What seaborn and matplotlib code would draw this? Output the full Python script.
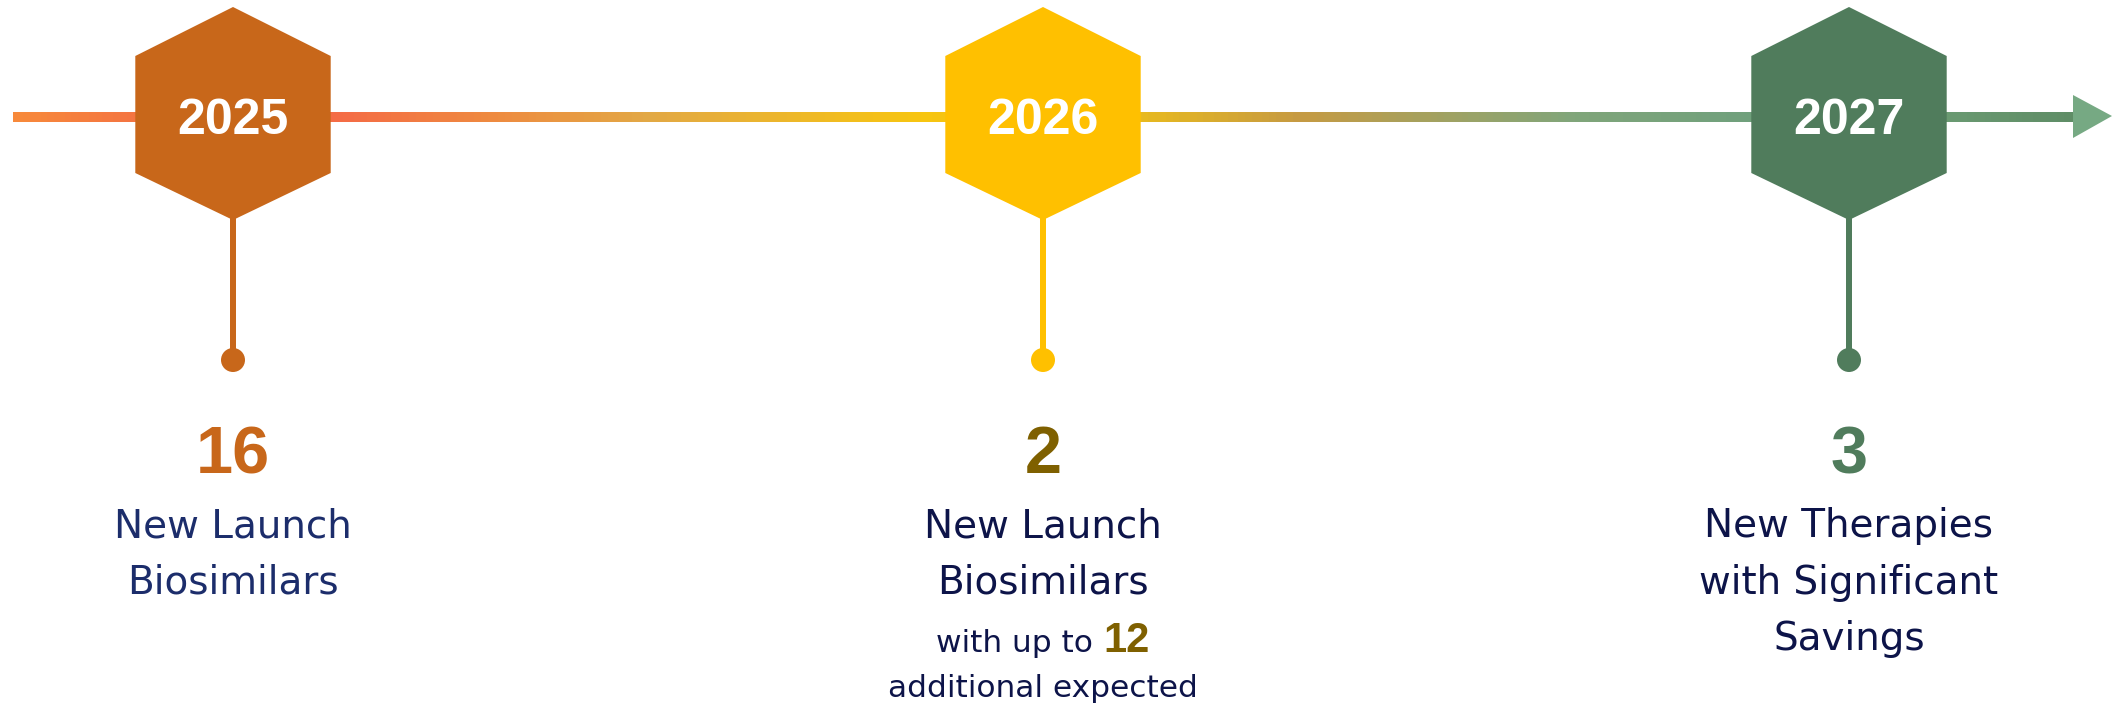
import matplotlib
matplotlib.use("Agg")
import matplotlib.pyplot as plt
import seaborn as sns
import numpy as np
import pandas as pd
from matplotlib.collections import LineCollection
from matplotlib.colors import LinearSegmentedColormap, to_rgb

sns.set_theme(style="white")
plt.rcParams["font.family"] = ["Liberation Sans", "DejaVu Sans"]

# milestone content
years = ["2025", "2026", "2027"]
counts = ["16", "2", "3"]
descriptions = [
    ["New Launch", "Biosimilars"],
    ["New Launch", "Biosimilars"],
    ["New Therapies", "with Significant", "Savings"],
]
extra_prefix = "with up to "
extra_count = "12"
extra_suffix = "additional expected"

hex_colors = ["#C8671A", "#FFC000", "#507C5C"]
count_colors = ["#C8671A", "#7F6000", "#507C5C"]
text_colors = ["#1C2D6B", "#0D1449", "#0D1449"]

# timeline gradient stops (pixel x, colour)
grad_x = [13, 200, 340, 488, 646, 923, 1140, 1298, 1456, 1575, 1750, 1947, 2074]
grad_c = ["#F7893B", "#F26845", "#F46C45", "#EE8A40", "#E2A845", "#F7C510",
          "#E8BA1E", "#C69A42", "#9EA264", "#80A57A", "#70A07C", "#6A9A72", "#5F8D66"]

W, H = 2119, 707
fig = plt.figure(figsize=(W / 100, H / 100), dpi=100)
ax = fig.add_axes([0, 0, 1, 1])

px = 72 / 100  # pixels -> points

# layout
mx = [233, 1043, 1849]
line_y = 117
half_w = 97.7
hex_top, hex_sh1, hex_sh2, hex_bot = 7, 56, 173, 220
dot_y = 360

# gradient line
xs = np.linspace(grad_x[0], grad_x[-1], 600)
pos = [(g - grad_x[0]) / (grad_x[-1] - grad_x[0]) for g in grad_x]
cmap = LinearSegmentedColormap.from_list("tl", list(zip(pos, [to_rgb(c) for c in grad_c])))
segs = [[(xs[i], line_y), (xs[i + 1] + 0.5, line_y)] for i in range(len(xs) - 1)]
lc = LineCollection(segs, colors=cmap(np.linspace(0, 1, len(segs))),
                    linewidths=10 * px, capstyle="butt", zorder=1)
ax.add_collection(lc)
ax.fill([2073, 2112, 2073], [95, 116, 138], color="#76A983", lw=0, zorder=1)

# stems and dots
ax.vlines(mx, hex_bot - 2, dot_y, colors=hex_colors, linewidth=6 * px, zorder=2)
dots = pd.DataFrame({"x": mx, "y": [dot_y] * 3, "year": years})
sns.scatterplot(data=dots, x="x", y="y", hue="year", palette=hex_colors,
                s=(24 * px) ** 2, linewidth=0, legend=False, ax=ax, zorder=3)
ax.set_xlim(0, W)
ax.set_ylim(H, 0)
ax.axis("off")

# hexagons with years
for x, yr, col in zip(mx, years, hex_colors):
    hx = [x, x + half_w, x + half_w, x, x - half_w, x - half_w]
    hy = [hex_top, hex_sh1, hex_sh2, hex_bot, hex_sh2, hex_sh1]
    ax.fill(hx, hy, color=col, lw=0, zorder=4)
    ax.text(x, 134, yr, ha="center", va="baseline", color="white",
            fontsize=36, fontweight="bold", zorder=5)

# counts and descriptions
body_font = ["DejaVu Sans"]
for x, n, ncol, lines, tcol in zip(mx, counts, count_colors, descriptions, text_colors):
    ax.text(x, 473, n, ha="center", va="baseline", color=ncol,
            fontsize=48, fontweight="bold")
    for i, ln in enumerate(lines):
        ax.text(x, 537 + 56.5 * i, ln, ha="center", va="baseline", color=tcol,
                fontsize=28, family=body_font)

# extra note under 2026
t1 = ax.text(0, 652, extra_prefix, ha="left", va="baseline", color=text_colors[1],
             fontsize=22.5, family=body_font)
t2 = ax.text(0, 652, extra_count, ha="left", va="baseline", color=count_colors[1],
             fontsize=30, fontweight="bold")
fig.canvas.draw()
r = fig.canvas.get_renderer()
w1 = t1.get_window_extent(r).width
w2 = t2.get_window_extent(r).width
x0 = mx[1] - (w1 + w2) / 2
t1.set_x(x0)
t2.set_x(x0 + w1)
ax.text(mx[1], 697, extra_suffix, ha="center", va="baseline", color=text_colors[1],
        fontsize=22.5, family=body_font)

fig.savefig("out.png", dpi=100, facecolor="white")
